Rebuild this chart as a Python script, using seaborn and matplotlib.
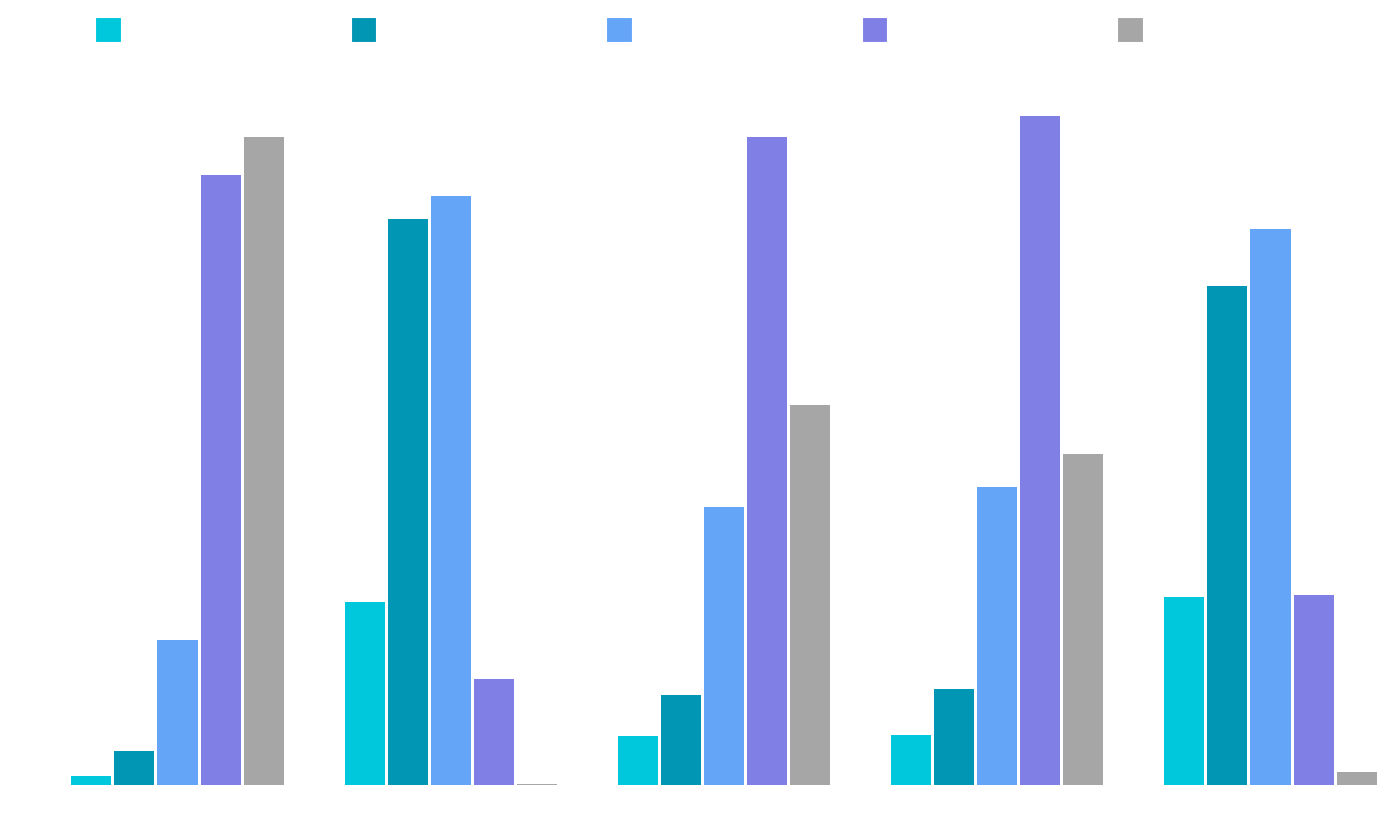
import matplotlib
matplotlib.use("Agg")
import matplotlib.pyplot as plt
import seaborn as sns
import pandas as pd
from matplotlib.patches import Patch

categories = ["G1", "G2", "G3", "G4", "G5"]
series = ["S1", "S2", "S3", "S4", "S5"]
s1 = [0.9, 18.3, 4.9, 5.0, 18.8]
s2 = [3.4, 56.6, 9.0, 9.6, 49.9]
s3 = [14.5, 58.9, 27.8, 29.8, 55.6]
s4 = [61.0, 10.6, 64.8, 66.9, 19.0]
s5 = [64.8, 0.15, 38.0, 33.1, 1.3]
colors = ["#00C8DC", "#0096B4", "#64A5F8", "#7F7FE6", "#A6A6A6"]

rows = []
for name, vals in zip(series, [s1, s2, s3, s4, s5]):
    for c, v in zip(categories, vals):
        rows.append({"category": c, "series": name, "value": v})
df = pd.DataFrame(rows)

sns.set_theme(style="white")
fig = plt.figure(figsize=(13.78, 8.19), dpi=100)
ax = fig.add_axes([0, 34 / 819, 1, 785 / 819])
sns.barplot(data=df, x="category", y="value", hue="series", hue_order=series,
            palette=colors, width=0.788, gap=0.07, linewidth=0,
            saturation=1, legend=False, ax=ax)

step = 273.25
c0 = 177.5
ax.set_xlim(-c0 / step, (1378 - c0) / step)
ax.set_ylim(0, 78.5)
ax.set_xlabel("")
ax.set_ylabel("")
ax.set_xticks([])
ax.set_yticks([])
for sp in ax.spines.values():
    sp.set_visible(False)

handles = [Patch(facecolor=col, edgecolor="white", linewidth=0.8) for col in colors]
leg = ax.legend(handles, [""] * 5, ncol=5, loc="upper left",
                borderaxespad=0, frameon=False, fontsize=10,
                handlelength=1.85, handleheight=2.37,
                handletextpad=0, columnspacing=16.55, borderpad=0)
leg.set_bbox_to_anchor((95 / 1378, 1 - 17 / 785), transform=ax.transAxes)

fig.savefig("out.png", dpi=100)
